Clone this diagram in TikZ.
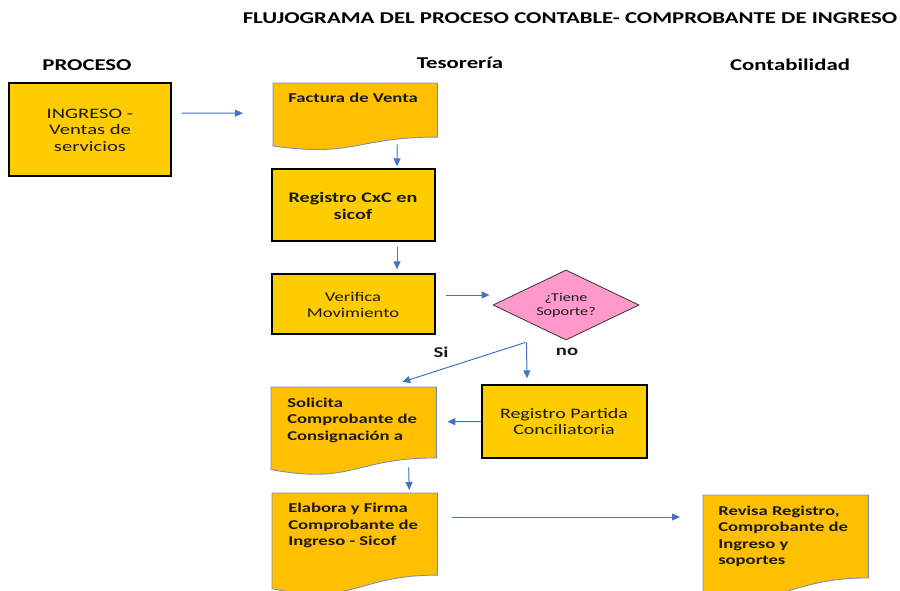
\documentclass[tikz,border=0pt]{standalone}
\usepackage{fontspec}
\setmainfont{Carlito}
\usetikzlibrary{shapes.geometric,arrows.meta,calc}
\definecolor{boxyellow}{HTML}{FFCC00}
\definecolor{docorange}{HTML}{FFC000}
\definecolor{docedge}{HTML}{7F8FA9}
\definecolor{arrblue}{HTML}{4472C4}
\definecolor{pinkfill}{HTML}{FF99CC}
\definecolor{txtdark}{HTML}{1A1A1A}
\newcommand{\docpath}[1]{%
  \draw[docstyle] (#1.north west) -- (#1.north east)
    -- ($(#1.north east)!0.802!(#1.south east)$)
    .. controls ($(#1.north)!0.802!(#1.south)$) and ($(#1.north)!1.107!(#1.south)$)
    .. ($(#1.north west)!0.934!(#1.south west)$) -- cycle;}
\begin{document}
\begin{tikzpicture}[x=1pt,y=-1pt,
  procbox/.style={rectangle,draw=black,line width=1.3pt,fill=boxyellow,inner sep=0pt},
  docbox/.style={rectangle,inner sep=0pt,anchor=north west},
  docstyle/.style={fill=docorange,draw=docedge,line width=0.9pt},
  decbox/.style={diamond,draw=black!80,line width=0.8pt,fill=pinkfill,inner sep=0pt},
  txt/.style={inner sep=0pt,xscale=1.38,text=txtdark,font=\fontsize{13.5}{16.5}\selectfont},
  btxt/.style={txt,font=\fontsize{13.5}{16.5}\selectfont\bfseries},
  bigtxt/.style={inner sep=0pt,xscale=1.42,text=txtdark,font=\fontsize{14.5}{16.5}\selectfont},
  head/.style={inner sep=0pt,xscale=1.38,text=black,font=\fontsize{16.5}{19}\selectfont\bfseries},
  arr/.style={draw=arrblue,line width=1pt,-{Triangle[length=8pt,width=7pt]}}]
\path[use as bounding box] (0,0) rectangle (900,590);

% title and headers
\node[head] (title) at (570,18) {FLUJOGRAMA DEL PROCESO CONTABLE- COMPROBANTE DE INGRESO};
\node[head] (hproc) at (87,65) {PROCESO};
\node[head] (htes) at (460,63) {Tesorería};
\node[head] (hcont) at (790,65) {Contabilidad};

% shapes
\node[procbox,minimum width=162pt,minimum height=93pt] (ing) at (90,129.5) {};
\node[docbox,minimum width=164pt,minimum height=67pt] (fac) at (273,83) {};
\docpath{fac}
\node[procbox,minimum width=163pt,minimum height=72pt] (cxc) at (353.5,205) {};
\node[procbox,minimum width=163pt,minimum height=60pt] (ver) at (353.5,304) {};
\node[decbox,minimum width=146pt,minimum height=70pt] (dia) at (566,305) {};
\node[docbox,minimum width=165pt,minimum height=88pt] (sol) at (271,387) {};
\docpath{sol}
\node[procbox,minimum width=165pt,minimum height=73pt] (rpc) at (564.5,421.5) {};
\node[docbox,minimum width=165pt,minimum height=102pt] (ela) at (272,493) {};
\docpath{ela}
\node[docbox,minimum width=165pt,minimum height=103pt] (rev) at (703,495) {};
\docpath{rev}

% texts
\node[bigtxt,align=center] (ingt) at (90,130) {INGRESO -\\Ventas de\\servicios};
\node[btxt,anchor=west] (fact) at (288,98) {Factura de Venta};
\node[btxt,align=center,font=\fontsize{14.6}{17.5}\selectfont\bfseries] (cxct) at (353,206) {Registro CxC en\\sicof};
\node[txt,align=center] (vert) at (353,305) {Verifica\\Movimiento};
\node[inner sep=0pt,xscale=1.35,font=\fontsize{12}{14}\selectfont,align=center,text=txtdark] (diat) at (566,305) {¿Tiene\\Soporte?};
\node[btxt,anchor=north west,align=left] (solt) at (287,397.5) {Solicita\\Comprobante de\\Consignación a};
\node[bigtxt,align=center,xscale=0.97] (rpct) at (564,421.5) {Registro Partida\\Conciliatoria};
\node[btxt,anchor=north west,align=left] (elat) at (288,503) {Elabora y Firma\\Comprobante de\\Ingreso - Sicof};
\node[btxt,anchor=north west,align=left] (revt) at (718,505.5) {Revisa Registro,\\Comprobante de\\Ingreso y\\soportes};
\node[btxt,font=\fontsize{15}{17}\selectfont\bfseries] (si) at (441,352) {Si};
\node[btxt,font=\fontsize{15}{17}\selectfont\bfseries] (no) at (567,352) {no};

% connectors
\draw[arr] ($(ing.east)+(10,-16.5)$) -- ($(fac.west)+(-30,-3.5)$);
\draw[arr] ($(fac.south)+(42,-6)$) -- ($(cxc.north)+(43.5,-2)$);
\draw[arr] ($(cxc.south)+(43.5,5)$) -- ($(ver.north)+(43.5,-4)$);
\draw[arr] ($(ver.east)+(10,-9)$) -- ($(dia.west)+(-3,-10)$);
\draw[arr] ($(dia.south)+(-40.5,2)$) -- ($(sol.north)+(48.5,-5)$);
\draw[arr] ($(dia.south)+(-39.5,2)$) -- ($(rpc.north)+(-37.5,-6)$);
\draw[arr] (rpc.west) -- ($(sol.east)+(11,-9.5)$);
\draw[arr] ($(sol.south)+(55,-8)$) -- ($(ela.north)+(54.5,-3)$);
\draw[arr] ($(ela.north east)+(15,24)$) -- ($(rev.north west)+(-23,22)$);
\end{tikzpicture}
\end{document}
